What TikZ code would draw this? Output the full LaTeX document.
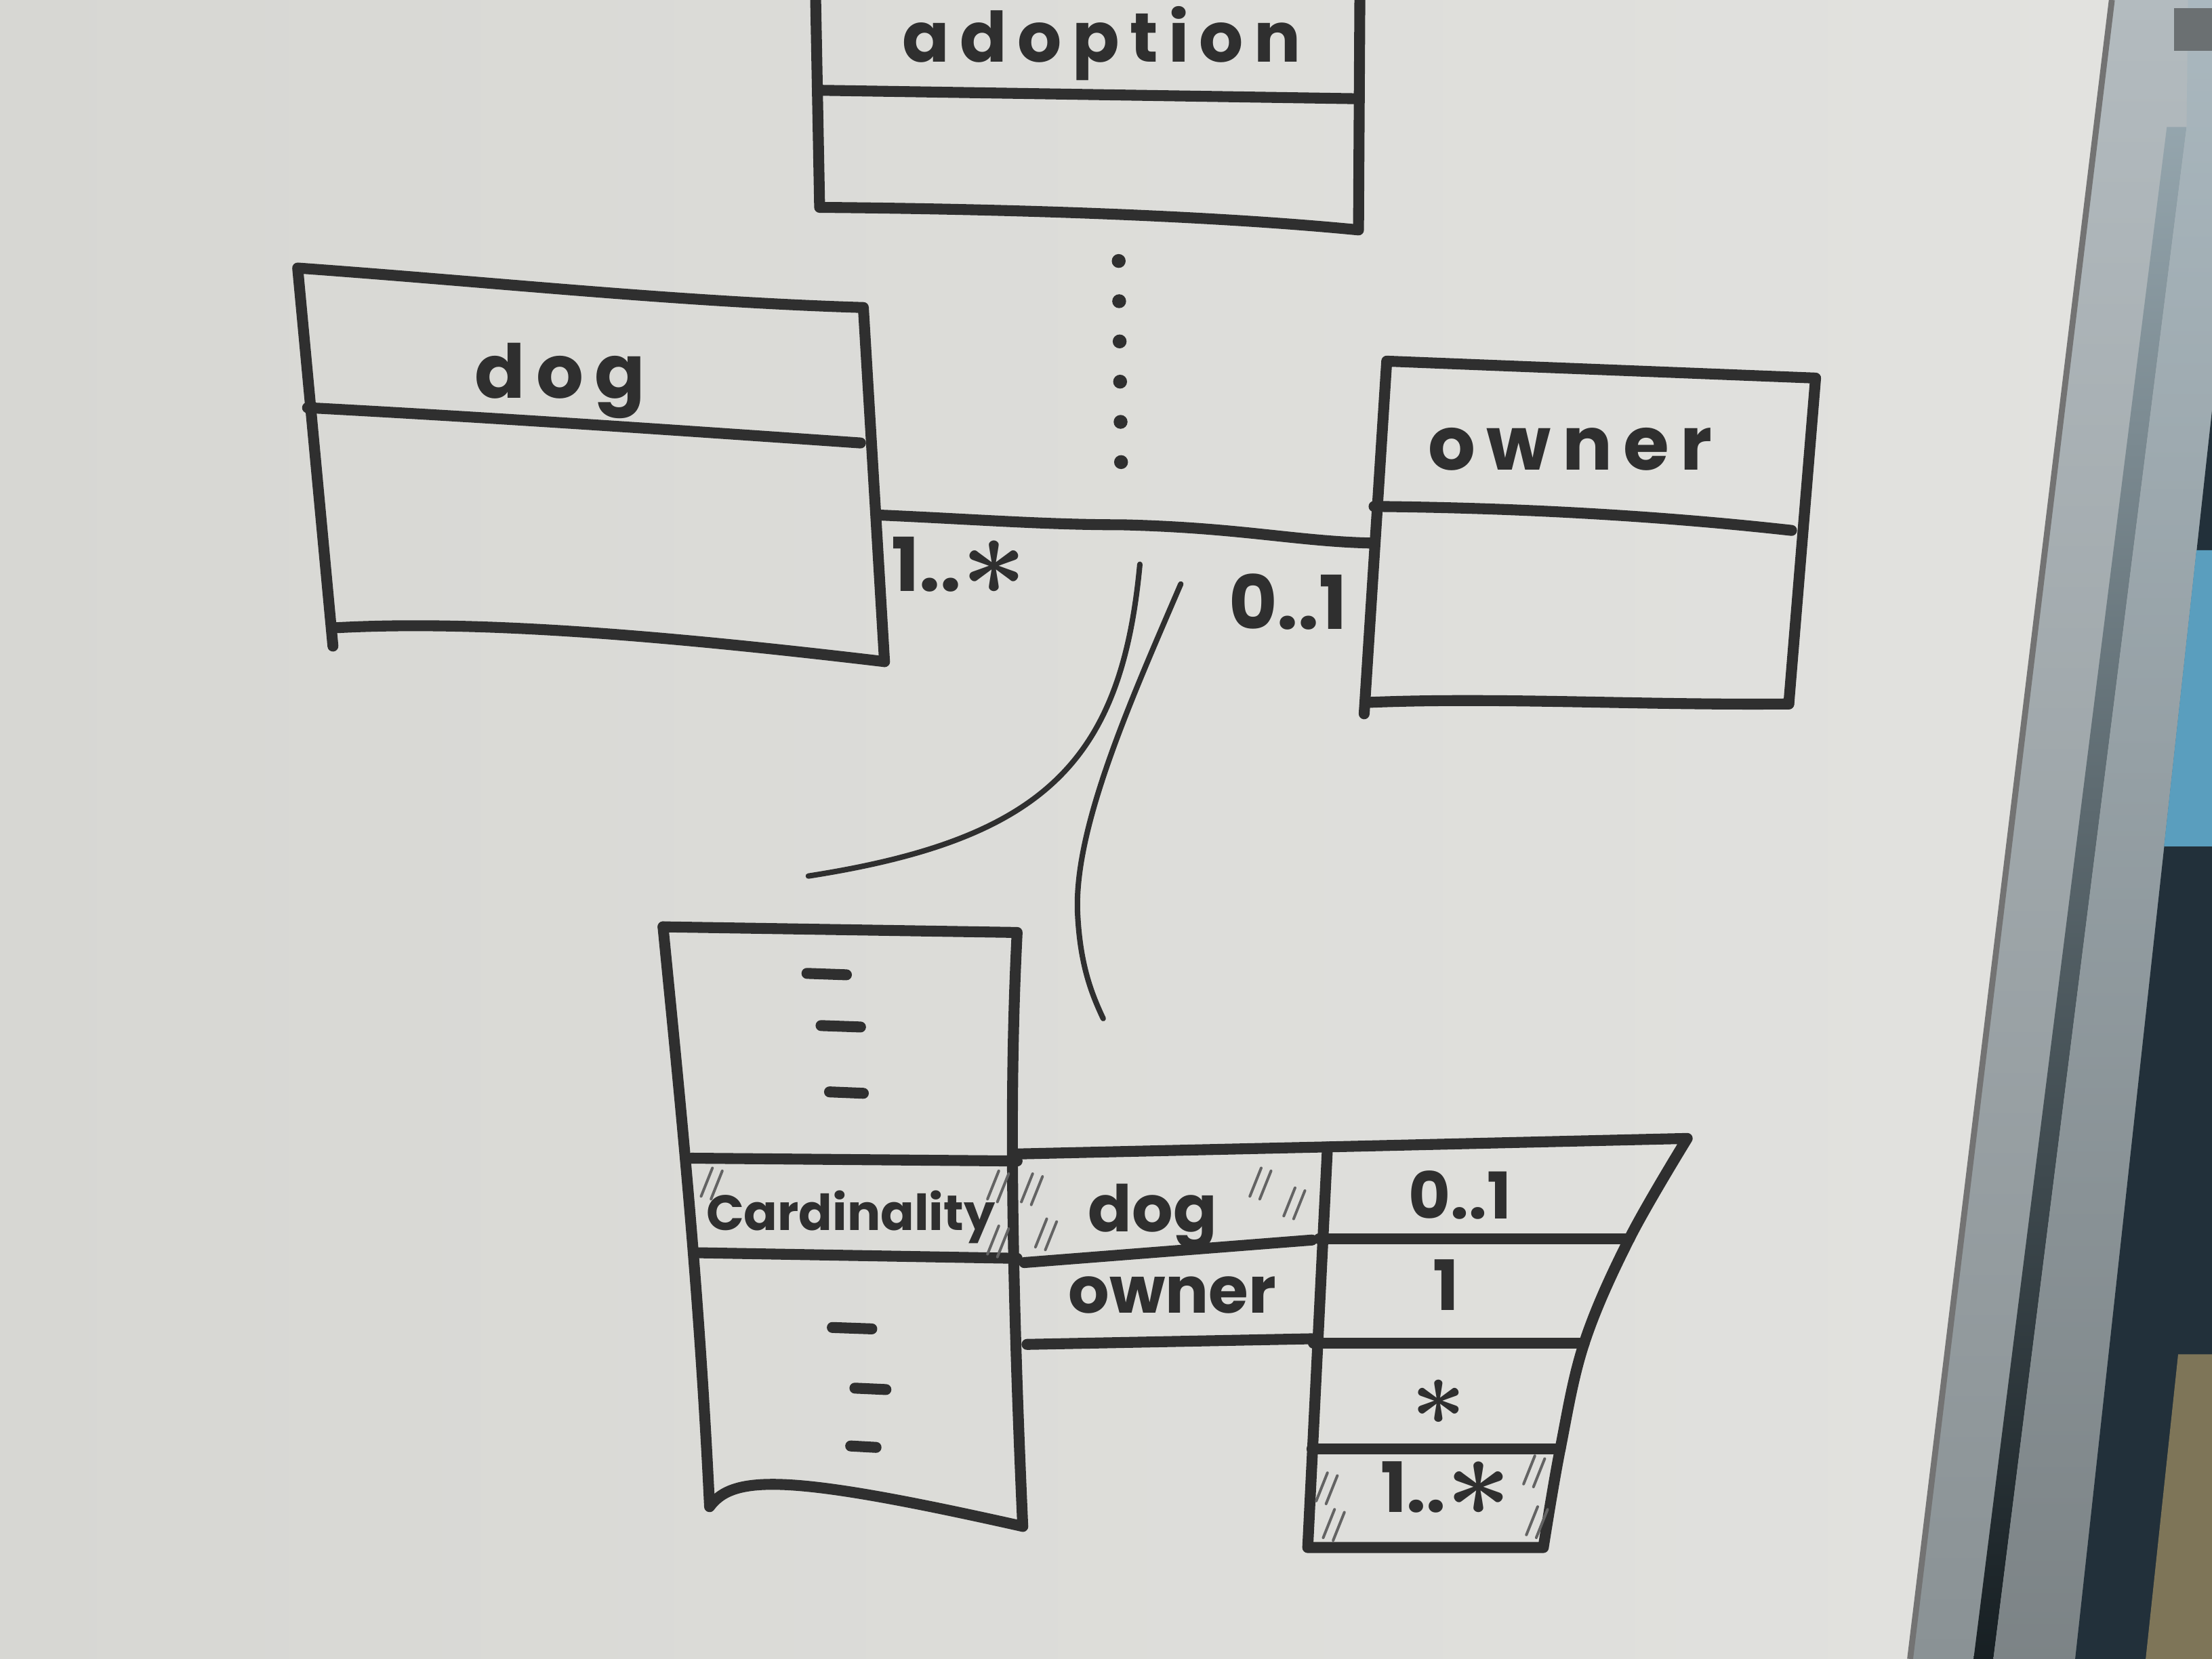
\documentclass[tikz,border=0pt]{standalone}
\usepackage{fontspec}
\setmainfont{Poppins}
\newfontfamily\handfont[LetterSpace=15]{Poppins}
\usetikzlibrary{positioning}

\definecolor{board}{HTML}{E2E2DF}
\definecolor{boardleft}{HTML}{D7D7D3}
\definecolor{marker}{HTML}{2F2F2F}
\definecolor{framegray}{HTML}{B3BBBF}
\definecolor{framelow}{HTML}{8A9295}
\definecolor{groove}{HTML}{5C7D8C}
\definecolor{panel}{HTML}{AAB8BF}
\definecolor{backdark}{HTML}{22303A}
\definecolor{backblue}{HTML}{5A9EBE}
\definecolor{backolive}{HTML}{7E7558}

% hand drawn multiplicity star
\newcommand{\many}{\raisebox{-0.05em}{\scalebox{1.6}{\boldmath$\ast$}}}

\tikzset{
  pen/.style={draw=marker, line width=2.2pt, line cap=round, line join=round},
  fine pen/.style={draw=marker, line width=1.1pt, line cap=round},
  hatch/.style={draw=marker!75, line width=0.55pt, line cap=round},
  dotline/.style={draw=marker, line width=2.8pt, line cap=round, dash pattern=on 0pt off 0.285cm},
  classname/.style={font=\handfont\bfseries\fontsize{#1}{#1}\selectfont, text=marker, inner sep=0pt, anchor=base},
  classname/.default=15,
  cellname/.style={font=\bfseries\fontsize{#1}{#1}\selectfont, text=marker, inner sep=0pt, anchor=base},
  cellname/.default=13,
}

\begin{document}
\begin{tikzpicture}[x=0.01cm, y=-0.01cm]
\useasboundingbox (0,0) rectangle (1568,1176);
\clip (0,0) rectangle (1568,1176);

% whiteboard and its frame
\shade[left color=boardleft, right color=board] (0,0) rectangle (1500,1176);
\shade[top color=framegray, bottom color=framelow] (1497,0) -- (1568,0) -- (1568,1176) -- (1354,1176) -- cycle;
\shade[top color=groove!35!framegray, bottom color=black!75!groove] (1536,90) -- (1550,90) -- (1413,1176) -- (1399,1176) -- cycle;
\shade[top color=panel, bottom color=framelow!90!black] (1551,0) -- (1568,0) -- (1568,291) -- (1471,1176) -- (1413,1176) -- (1550,90) -- cycle;
\fill[backdark] (1568,291) -- (1471,1176) -- (1568,1176) -- cycle;
\fill[backblue] (1557,390) -- (1568,390) -- (1568,600) -- (1534,600) -- cycle;
\fill[backolive] (1544,960) -- (1568,960) -- (1568,1176) -- (1521,1176) -- cycle;
\fill[black!40!framegray] (1541,6) rectangle (1568,36);
\draw[black!55, line width=1.2pt] (1497,0) -- (1354,1176);

% adoption class
\coordinate (adoptNW) at (578,-10);
\coordinate (adoptNE) at (964,-10);
\coordinate (adoptSW) at (581,147);
\coordinate (adoptSE) at (963,163);
\draw[pen] (adoptNW) -- (adoptSW) .. controls (700,148) and (850,152) .. (adoptSE) -- (adoptNE);
\draw[pen] (581,64) -- (963,70);
\node[classname=14] (adoption) at (781,44) {adoption};

% dog class
\coordinate (dogNW) at (211,190);
\coordinate (dogNE) at (612,218);
\coordinate (dogSW) at (236,458);
\coordinate (dogSE) at (627,469);
\draw[pen] (dogSW) -- (dogNW) .. controls (350,200) and (480,214) .. (dogNE) -- (dogSE);
\draw[pen] (238,445) .. controls (330,440) and (450,448) .. (dogSE);
\draw[pen] (218,289) .. controls (350,296) and (480,305) .. (610,314);
\node[classname] (dog) at (397,282) {dog};

% owner class
\coordinate (ownerNW) at (983,256);
\coordinate (ownerNE) at (1287,268);
\coordinate (ownerSW) at (967,506);
\coordinate (ownerSE) at (1268,499);
\draw[pen] (ownerSW) -- (ownerNW) -- (ownerNE) -- (ownerSE);
\draw[pen] (968,498) .. controls (1060,494) and (1160,500) .. (ownerSE);
\draw[pen] (974,359) .. controls (1080,360) and (1180,366) .. (1270,376);
\node[classname] (owner) at (1113,333) {owner};

% association and association class
\coordinate (dogE) at (621,365);
\coordinate (ownerW) at (974,385);
\coordinate (assocMid) at (795,372);
\draw[pen] (dogE) .. controls (690,368) and (740,372) .. (assocMid) .. controls (880,374) and (920,384) .. (ownerW);
\coordinate (adoptTail) at (793,185);
\coordinate (assocTop) at (795,356);
\draw[dotline] (adoptTail) -- (assocTop);
\node[cellname=15] (dogMult) at (680,419) {1..\many};
\node[cellname=15] (ownerMult) at (913,446) {0..1};

% lines opening onto the table
\coordinate (zoomA) at (808,400);
\coordinate (zoomAend) at (573,621);
\coordinate (zoomB) at (837,414);
\coordinate (zoomBend) at (782,722);
\draw[fine pen] (zoomA) .. controls (795,540) and (740,595) .. (zoomAend);
\draw[fine pen] (zoomB) .. controls (800,500) and (760,590) .. (764,650) .. controls (766,685) and (774,705) .. (zoomBend);

% class Cardinality
\coordinate (cardNW) at (470,657);
\coordinate (cardNE) at (721,661);
\coordinate (cardSW) at (503,1068);
\coordinate (cardSE) at (725,1082);
\draw[pen] (cardNW) -- (cardNE) .. controls (716,760) and (716,880) .. (cardSE);
\draw[pen] (cardNW) .. controls (480,760) and (495,900) .. (cardSW) .. controls (520,1045) and (560,1045) .. (cardSE);
\draw[pen] (490,821) -- (721,823);
\draw[pen] (493,888) -- (721,892);
\foreach \x/\y/\l in {572/690/28, 582/727/28, 588/774/24, 590/941/28, 606/984/22, 603/1025/18}
  \draw[pen] (\x,\y) -- ++(\l,1);
\node[cellname=10] (cardinality) at (603,872) {Cardinality};

% roles
\draw[pen] (721,818) -- (941,813);
\draw[pen] (726,895) -- (930,879);
\draw[pen] (728,953) -- (930,949);
\node[cellname] (roleDog) at (817,873) {dog};
\node[cellname] (roleOwner) at (831,931) {owner};

% multiplicities
\coordinate (multNW) at (941,813);
\coordinate (multNE) at (1196,807);
\coordinate (multSW) at (927,1097);
\coordinate (multSE) at (1094,1097);
\draw[pen] (multSW) -- (multNW) -- (multNE)
  plot[smooth, tension=0.6] coordinates {(multNE) (1155,878) (1123,952) (1106,1027) (multSE)}
  -- (multSW);
\draw[pen] (935,878) -- (1155,878);
\draw[pen] (931,952) -- (1123,952);
\draw[pen] (930,1027) -- (1106,1027);
\node[cellname] (multOpt) at (1035,864) {0..1};
\node[cellname=14] (multOne) at (1025,929) {1};
\node[cellname=13, anchor=center] (multMany) at (1020,994) {\many};
\node[cellname=14] (multSome) at (1025,1072) {1..\many};

% hatching of the chosen cells
\foreach \x/\y in {497/848, 700/850, 700/889, 724/852, 734/884, 886/848, 910/862, 933/1064, 938/1090, 1080/1052, 1082/1088} {
  \draw[hatch] (\x,\y) -- ++(8,-20);
  \draw[hatch] (\x+7,\y+2) -- ++(8,-20);
}
\end{tikzpicture}
\end{document}
